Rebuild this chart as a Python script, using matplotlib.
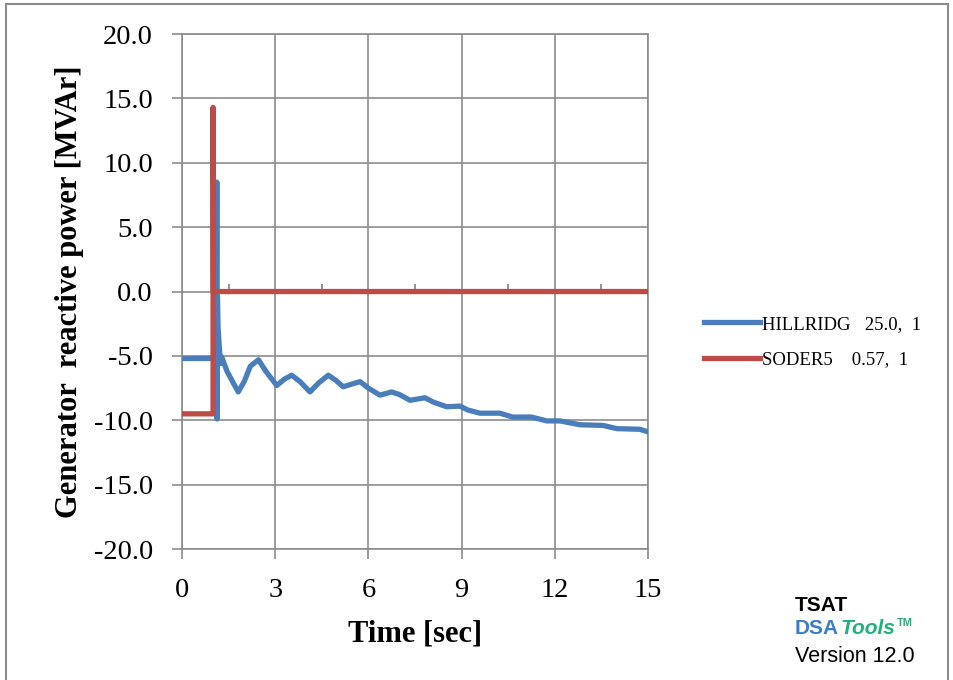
import numpy as np
import matplotlib.pyplot as plt
from matplotlib.patches import Rectangle
from matplotlib.lines import Line2D

# data
hill_t = [0.0, 1.0, 1.08, 1.11, 1.12, 1.13, 1.14, 1.16, 1.2, 1.24, 1.28, 1.45, 1.65, 1.81,
          2.0, 2.2, 2.46, 2.7, 3.05, 3.3, 3.53, 3.8, 4.12, 4.4, 4.71, 4.95, 5.19, 5.45,
          5.73, 6.0, 6.37, 6.75, 7.0, 7.34, 7.82, 8.1, 8.52, 8.95, 9.2, 9.59, 10.23,
          10.65, 11.25, 11.74, 12.17, 12.81, 13.55, 14.0, 14.74, 15.0]
hill_q = [-5.2, -5.2, -5.2, -2.0, 8.5, -9.9, -0.4, -2.8, -4.3, -5.6, -5.1, -6.2, -7.1, -7.8,
          -7.0, -5.8, -5.3, -6.2, -7.3, -6.8, -6.5, -7.0, -7.8, -7.1, -6.5, -6.9, -7.4, -7.2,
          -7.0, -7.5, -8.05, -7.8, -8.0, -8.45, -8.25, -8.6, -8.95, -8.9, -9.2, -9.45, -9.45,
          -9.75, -9.75, -10.05, -10.05, -10.35, -10.4, -10.65, -10.7, -10.9]
soder_t = [0.0, 1.0, 1.0, 1.01, 15.0]
soder_q = [-9.5, -9.5, 14.3, 0.0, 0.0]

series_names = ["HILLRIDG   25.0,  1", "SODER5    0.57,  1"]
colors = ["#4a7ebb", "#be4b48"]
x_ticks = [0, 3, 6, 9, 12, 15]
y_ticks = [-20, -15, -10, -5, 0, 5, 10, 15, 20]
axis_marks = np.arange(1.5, 15, 3)

plt.rcParams['font.family'] = ['Liberation Serif', 'DejaVu Serif']

fig = plt.figure(figsize=(9.54, 6.8), dpi=100)
ax = fig.add_axes([0.1908, 0.1926, 0.4884, 0.7574])

ax.plot(hill_t, hill_q, color=colors[0], lw=3.8, solid_joinstyle='round', zorder=3)
ax.plot(soder_t, soder_q, color=colors[1], lw=3.8, solid_joinstyle='round', zorder=4)
ax.vlines(axis_marks, 0, 0.55, color="#808080", lw=1.2, zorder=2)

ax.set_xlim(0, 15)
ax.set_ylim(-20, 20)
ax.set_xticks(x_ticks)
ax.set_yticks(y_ticks)
ax.set_yticklabels([f"{v:.1f}" for v in y_ticks])
ax.grid(True, color="#8c8c8c", lw=1.2)
ax.set_axisbelow(True)
for s in ax.spines.values():
    s.set_color("#8c8c8c")
    s.set_linewidth(1.2)
ax.tick_params(axis='both', labelsize=20.5, length=7, width=1.2, color="#8c8c8c", pad=14)

ax.set_xlabel("Time [sec]", fontsize=22, fontweight='bold', labelpad=12)
ax.set_ylabel("Generator  reactive power [MVAr]", fontsize=22, fontweight='bold', labelpad=7)

# legend
handles = [Line2D([], [], color=c, lw=3.8) for c in colors]
fig.legend(handles, series_names, loc='center left', bbox_to_anchor=(0.72, 0.497), frameon=False,
           fontsize=13.5, handlelength=3.0, handletextpad=0.1, labelspacing=0.97)

# outer frame
fig.add_artist(Rectangle((0.0063, -0.05), 0.9874, 1.044, transform=fig.transFigure,
                         fill=False, edgecolor="#8c8c8c", lw=1.5))

# TSAT stamp
sans = ['Liberation Sans', 'DejaVu Sans']
fig.text(0.833, 0.1015, "TSAT", family=sans, fontsize=15, fontweight='bold', color='black')
dsa = fig.text(0.833, 0.067, "DSA", family=sans, fontsize=15, fontweight='bold', color="#3d7cc9")
r = fig.canvas.get_renderer()
x1 = fig.transFigure.inverted().transform(dsa.get_window_extent(r).p1)[0]
tools = fig.text(x1 + 0.002, 0.067, "Tools", family=sans, fontsize=15, fontweight='bold',
                 style='italic', color="#22b07a")
x2 = fig.transFigure.inverted().transform(tools.get_window_extent(r).p1)[0]
fig.text(x2 + 0.001, 0.079, "TM", family=sans, fontsize=8, fontweight='bold', color="#22b07a")
fig.text(0.833, 0.0265, "Version 12.0", family=sans, fontsize=15.5, color='black')

fig.savefig("out.png", dpi=100)
